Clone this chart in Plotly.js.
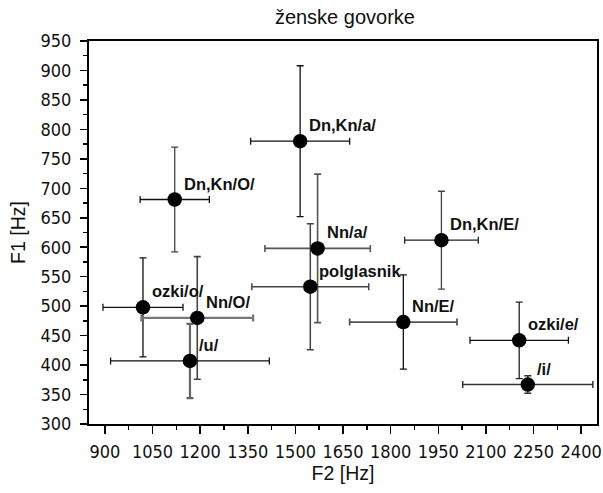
<!DOCTYPE html>
<html>
<head>
<meta charset="utf-8">
<script src="https://cdn.plot.ly/plotly-3.0.1.min.js"></script>
<style>html,body{margin:0;padding:0;background:#fff;}#chart{width:603px;height:493px;}</style>
</head>
<body>
<div id="chart"></div>
<script>
// vowel categories
const labels = ["Dn,Kn/O/", "Dn,Kn/a/", "Nn/a/", "polglasnik", "Nn/E/", "Dn,Kn/E/", "ozki/e/", "/i/", "ozki/o/", "Nn/O/", "/u/"];
// mean formants (Hz)
const F2 = [1120, 1515, 1570, 1547, 1840, 1960, 2205, 2232, 1020, 1191, 1168];
const F1 = [681, 780, 598, 533, 473, 612, 442, 367, 498, 480, 407];
// standard deviations (Hz)
const F2sd = [109, 156, 166, 184, 169, 116, 155, 205, 126, 176, 250];
const F1sd = [89, 128, 126, 107, 80, 83, 65, 15, 84, 104, 63];
// axis ticks
const xTicks = [900, 1050, 1200, 1350, 1500, 1650, 1800, 1950, 2100, 2250, 2400];
const yTicks = [300, 350, 400, 450, 500, 550, 600, 650, 700, 750, 800, 850, 900, 950];

// error bar styling per category (colour x, colour y, thickness x, thickness y)
const errStyle = {
  "Dn,Kn/O/": ["#111", "#444", 1.3, 1.3],
  "Dn,Kn/a/": ["#111", "#111", 1.3, 1.3],
  "Nn/a/": ["#555", "#555", 1.6, 1.6],
  "polglasnik": ["#444", "#444", 1.5, 1.5],
  "Nn/E/": ["#555", "#111", 1.8, 1.3],
  "Dn,Kn/E/": ["#222", "#444", 1.3, 1.3],
  "ozki/e/": ["#111", "#222", 1.3, 1.3],
  "/i/": ["#333", "#333", 1.5, 1.5],
  "ozki/o/": ["#111", "#111", 1.3, 1.3],
  "Nn/O/": ["#777", "#444", 2.2, 1.6],
  "/u/": ["#111", "#666", 1.3, 2.2]
};

const traces = [];
labels.forEach((lab, i) => {
  const s = errStyle[lab];
  traces.push({
    type: 'scatter', mode: 'markers',
    x: [F2[i]], y: [F1[i]],
    marker: {size: 1, color: 'rgba(0,0,0,0)'},
    error_x: {type: 'data', array: [F2sd[i]], visible: true, color: s[0], thickness: s[2], width: 3.5},
    error_y: {type: 'data', array: [F1sd[i]], visible: true, color: s[1], thickness: s[3], width: 3.5},
    hoverinfo: 'skip', showlegend: false
  });
});
traces.push({
  type: 'scatter', mode: 'markers', x: F2, y: F1, text: labels,
  marker: {size: 14.5, color: '#000'}, showlegend: false
});

const annotations = labels.map((lab, i) => ({
  x: F2[i], y: F1[i], xref: 'x', yref: 'y', text: '<b>' + lab + '</b>',
  showarrow: false, xanchor: 'left', yanchor: 'middle', xshift: 7, yshift: 16,
  font: {family: 'Liberation Sans, Arial, sans-serif', size: 16.5, color: '#111'}
}));

const tickFont = {family: 'Liberation Sans Narrow, Arial Narrow, DejaVu Sans Condensed, sans-serif', size: 18, color: '#111'};

const layout = {
  width: 603, height: 493,
  margin: {l: 89, r: 6, t: 41, b: 69},
  paper_bgcolor: '#fff', plot_bgcolor: '#fff',
  title: {text: 'ženske govorke', x: 0.572, xanchor: 'center', y: 0.965, yanchor: 'middle',
          font: {family: 'Liberation Sans, Arial, sans-serif', size: 20, color: '#111'}},
  xaxis: {
    range: [850, 2450], tickvals: xTicks, ticktext: xTicks.map(String),
    ticks: 'outside', ticklen: 8, tickwidth: 1.5, tickcolor: '#000',
    minor: {dtick: 75, tick0: 825, ticks: 'outside', ticklen: 4, tickwidth: 1.5, tickcolor: '#000', showgrid: false},
    showline: true, linewidth: 2, linecolor: '#000', mirror: true,
    showgrid: false, zeroline: false, tickfont: tickFont, ticklabelstandoff: 2,
    title: {text: 'F2 [Hz]', standoff: 4, font: {family: 'Liberation Sans, Arial, sans-serif', size: 19.5, color: '#111'}}
  },
  yaxis: {
    range: [300, 950], tickvals: yTicks, ticktext: yTicks.map(String),
    ticks: 'outside', ticklen: 7, tickwidth: 1.5, tickcolor: '#000',
    minor: {dtick: 25, ticks: 'outside', ticklen: 4, tickwidth: 1.5, tickcolor: '#000', showgrid: false},
    showline: true, linewidth: 2, linecolor: '#000', mirror: true,
    showgrid: false, zeroline: false, tickfont: tickFont, ticklabelstandoff: 5,
    title: {text: 'F1 [Hz]', standoff: 10, font: {family: 'Liberation Sans, Arial, sans-serif', size: 19.5, color: '#111'}}
  },
  annotations: annotations
};

Plotly.newPlot('chart', traces, layout, {displayModeBar: false, staticPlot: true});
</script>
</body>
</html>
